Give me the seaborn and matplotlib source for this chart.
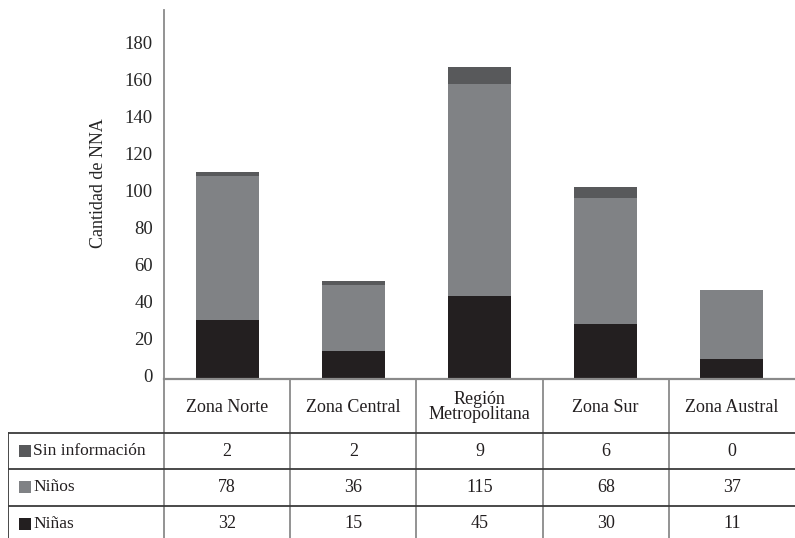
import matplotlib
matplotlib.use("Agg")
import matplotlib.pyplot as plt
from matplotlib.patches import Rectangle
from matplotlib.transforms import ScaledTranslation
import seaborn as sns
import pandas as pd

# ---- data ----
zonas = ["Zona Norte", "Zona Central", "Región\nMetropolitana", "Zona Sur", "Zona Austral"]
sin_informacion = [2, 2, 9, 6, 0]
ninos = [78, 36, 115, 68, 37]
ninas = [32, 15, 45, 30, 11]
series_names = ["Sin información", "Niños", "Niñas"]
y_ticks = [0, 20, 40, 60, 80, 100, 120, 140, 160, 180]

colors = {"Sin información": "#58595b", "Niños": "#808285", "Niñas": "#231f20"}

sns.set_theme(style="white")
plt.rcParams["font.family"] = ["Liberation Serif", "DejaVu Serif"]
plt.rcParams["text.color"] = "#231f20"

W, H = 795, 538
fig = plt.figure(figsize=(W / 100, H / 100), dpi=100)

def px_axes(x0, y0, x1, y1):
    return fig.add_axes([x0 / W, 1 - y1 / H, (x1 - x0) / W, (y1 - y0) / H])

# ---- stacked bars ----
ax = px_axes(164, 10, 795, 379)
df = pd.DataFrame({"zona": zonas, "Sin información": sin_informacion,
                   "Niños": ninos, "Niñas": ninas})
df["tot_ninas"] = df["Niñas"]
df["tot_ninos"] = df["tot_ninas"] + df["Niños"]
df["tot_sin"] = df["tot_ninos"] + df["Sin información"]

for col, name in [("tot_sin", "Sin información"), ("tot_ninos", "Niños"), ("tot_ninas", "Niñas")]:
    sns.barplot(data=df, x="zona", y=col, order=zonas, color=colors[name],
                width=0.5, saturation=1, ax=ax, linewidth=0)

ax.set_xlim(-0.5, 4.5)
ax.set_ylim(0, 200)
ax.set_yticks(y_ticks)
ax.set_yticklabels([str(t) for t in y_ticks], fontsize=13.5)
ax.set_xticks([])
ax.set_xlabel("")
ax.set_ylabel("Cantidad de NNA", fontsize=13)
ax.yaxis.set_label_coords(-0.09, 0.53)
ax.tick_params(axis="y", length=0, pad=8)
shift = ScaledTranslation(0, 4 / 100, fig.dpi_scale_trans)
for lab in ax.get_yticklabels():
    lab.set_transform(lab.get_transform() + shift)
for s in ["top", "right"]:
    ax.spines[s].set_visible(False)
ax.spines["left"].set_color("#8a8a8a")
ax.spines["bottom"].set_color("#8a8a8a")
ax.spines["left"].set_linewidth(1.3)
ax.spines["bottom"].set_linewidth(1.6)

# ---- data table under the chart ----
unit = 631 / 5.0
left_ext = (164 - 8) / unit
tb = px_axes(8, 379, 795, 538)
tb.set_xlim(-0.5 - left_ext, 4.5)
tb.set_ylim(538, 379)
tb.axis("off")

line_grey = "#8a8a8a"
line_dark = "#3a3a3a"
row_tops = [433, 469, 506]
row_bottom = 545

# vertical separators
for i in range(5):
    tb.plot([i - 0.5, i - 0.5], [379, row_bottom], color=line_grey, lw=1.3)
tb.plot([-0.5 - left_ext, -0.5 - left_ext], [row_tops[0], row_bottom], color=line_dark, lw=1.3)
# horizontal separators
for y in row_tops:
    tb.plot([-0.5 - left_ext, 4.5], [y, y], color=line_dark, lw=1.3)

# header labels
for i, z in enumerate(zonas):
    tb.text(i, 407, z, ha="center", va="center", fontsize=13, linespacing=0.9)

# series rows
rows = [sin_informacion, ninos, ninas]
for r, (name, vals) in enumerate(zip(series_names, rows)):
    yc = row_tops[r] + 18
    x0 = -0.5 - left_ext + 11 / unit
    tb.add_patch(Rectangle((x0, yc - 6), 12 / unit, 12, color=colors[name], lw=0))
    tb.text(x0 + 14 / unit, yc, name, ha="left", va="center", fontsize=12.5)
    for i, v in enumerate(vals):
        tb.text(i, yc, str(v), ha="center", va="center", fontsize=13)

fig.savefig("out.png", dpi=100, facecolor="white")
